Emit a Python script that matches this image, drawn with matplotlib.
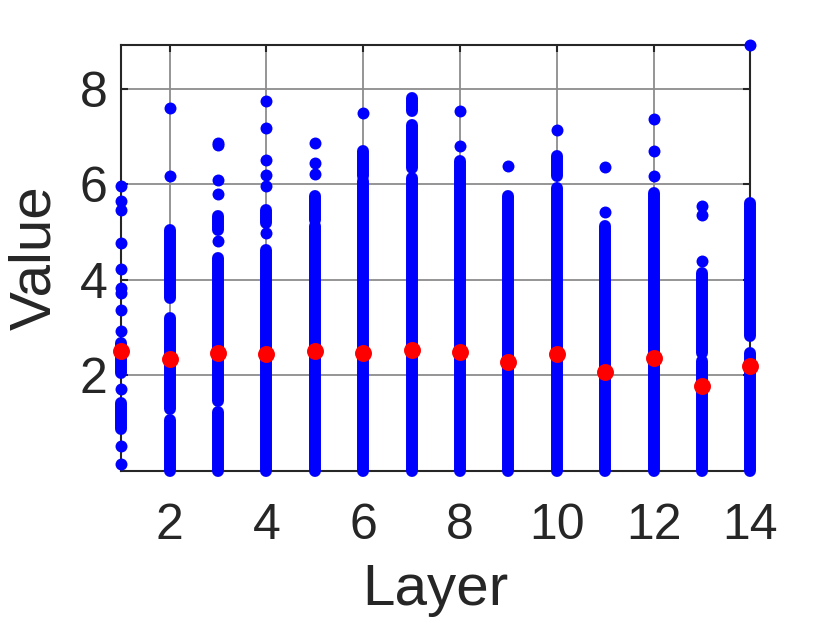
import matplotlib
matplotlib.use("Agg")
import matplotlib.pyplot as plt

plt.rcParams['font.family'] = ['Liberation Sans', 'DejaVu Sans']

layers = list(range(1, 15))
means = [2.51, 2.35, 2.47, 2.44, 2.51, 2.48, 2.53, 2.50, 2.29, 2.44, 2.08, 2.36, 1.78, 2.20]

# isolated values per layer (sparse outliers)
isolated = [
    [5.96, 5.65, 5.47, 4.78, 4.23, 3.83, 3.72, 3.38, 2.93, 1.71, 0.52, 0.14],
    [7.60, 6.18],
    [6.87, 6.82, 6.10, 5.79, 4.81],
    [7.74, 7.18, 6.52, 6.20, 5.96, 4.98],
    [6.87, 6.45, 6.22],
    [7.49],
    [],
    [7.53, 6.81],
    [6.38],
    [7.13],
    [6.36, 5.42],
    [7.37, 6.69, 6.17],
    [5.55, 5.35, 4.39],
    [8.92],
]

# ranges where the values are packed so densely they form a solid column
dense = [
    [(2.06, 2.68), (0.87, 1.43)],
    [(3.63, 5.05), (1.29, 3.20), (0.0, 1.06)],
    [(5.05, 5.33), (1.46, 4.45), (0.0, 1.23)],
    [(5.19, 5.47), (0.0, 4.63)],
    [(5.26, 5.75), (0.0, 5.12)],
    [(6.17, 6.69), (0.0, 6.06)],
    [(7.53, 7.81), (6.34, 7.25), (0.0, 6.13)],
    [(0.0, 6.48)],
    [(0.0, 5.75)],
    [(6.17, 6.59), (0.0, 5.92)],
    [(0.0, 5.12)],
    [(0.0, 5.82)],
    [(2.48, 4.15), (0.0, 2.30)],
    [(2.82, 5.61), (0.0, 2.48)],
]

fig = plt.figure(figsize=(8.3, 6.23), dpi=100)
ax = fig.add_axes([0.146, 0.244, 0.758, 0.684])

for layer, pts, runs in zip(layers, isolated, dense):
    if runs:
        lo = [r[0] for r in runs]
        hi = [r[1] for r in runs]
        ax.vlines([layer] * len(runs), lo, hi, colors='#0000ff', linewidth=8.6,
                  capstyle='round', clip_on=False, zorder=3)
    if pts:
        ax.plot([layer] * len(pts), pts, 'o', color='#0000ff', ms=8.6, mec='none',
                clip_on=False, zorder=3)

ax.plot(layers, means, 'o', color='#ff0000', ms=12.2, mec='none', clip_on=False, zorder=4)

ax.set_xlim(1, 14)
ax.set_ylim(0, 8.92)
ax.set_xticks([2, 4, 6, 8, 10, 12, 14])
ax.set_yticks([2, 4, 6, 8])
ax.grid(True, color='#8c8c8c', linewidth=1.3)
ax.set_axisbelow(True)
for s in ax.spines.values():
    s.set_color('#262626')
    s.set_linewidth(1.5)
ax.tick_params(direction='in', top=True, right=True, length=5, width=1.5,
               color='#262626', labelcolor='#262626', labelsize=36, pad=10)
ax.tick_params(axis='x', pad=23)
ax.set_xlabel('Layer', fontsize=42, color='#262626', labelpad=10)
ax.set_ylabel('Value', fontsize=42, color='#262626', labelpad=12)

fig.savefig('out.png', dpi=100)
